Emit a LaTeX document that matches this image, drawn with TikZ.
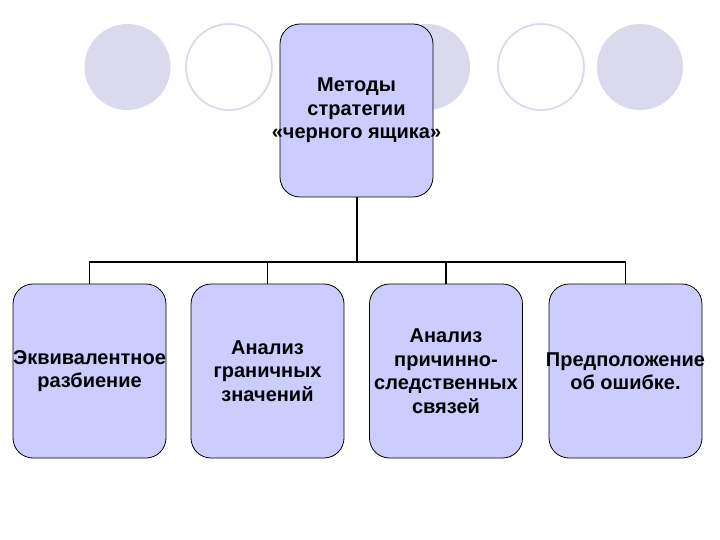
\documentclass[tikz,border=0pt]{standalone}
\usepackage{fontspec}
\setmainfont{Liberation Sans}
\usetikzlibrary{positioning}
\definecolor{ringgrey}{RGB}{218,218,236}
\definecolor{boxblue}{RGB}{204,204,255}
\newcommand{\fitline}[1]{\makebox[140pt]{#1}}

\begin{document}
\begin{tikzpicture}[x=1pt,y=-1pt,
  methodbox/.style={draw=black, line width=0.8pt, fill=boxblue, rounded corners=20pt,
    minimum width=153pt, minimum height=174pt, inner sep=0pt, align=center,
    font=\bfseries\fontsize{20}{23.5}\selectfont},
  link/.style={line width=1.6pt, line cap=rect}]
\useasboundingbox (0,0) rectangle (720,540);
\fill[ringgrey] (127.5,67) circle (43);
\draw[ringgrey, line width=1.8pt] (229,67) circle (43);
\fill[ringgrey] (427,67) circle (43);
\draw[ringgrey, line width=1.8pt] (541,67) circle (43);
\fill[ringgrey] (640,67) circle (43);
\node[methodbox, minimum height=173pt] (root) at (356.5,110.5)
  {Методы\\стратегии\\\fitline{«черного ящика»}};
\node[methodbox] (equiv) at (89.5,371) {\fitline{Эквивалентное}\\разбиение};
\node[methodbox] (bound) at (267.5,371) {Анализ\\граничных\\значений};
\node[methodbox] (cause) at (446,371) {Анализ\\причинно-\\\fitline{следственных}\\связей};
\node[methodbox] (guess) at (625.5,371) {\fitline{Предположение}\\об ошибке.};
\coordinate (hub) at (357,262);
\draw[link] (root.south -| hub) -- (hub);
\draw[link] (equiv.north) -- (equiv.north |- hub) -- (guess.north |- hub) -- (guess.north);
\draw[link] (bound.north) -- (bound.north |- hub);
\draw[link] (cause.north) -- (cause.north |- hub);
\end{tikzpicture}
\end{document}
